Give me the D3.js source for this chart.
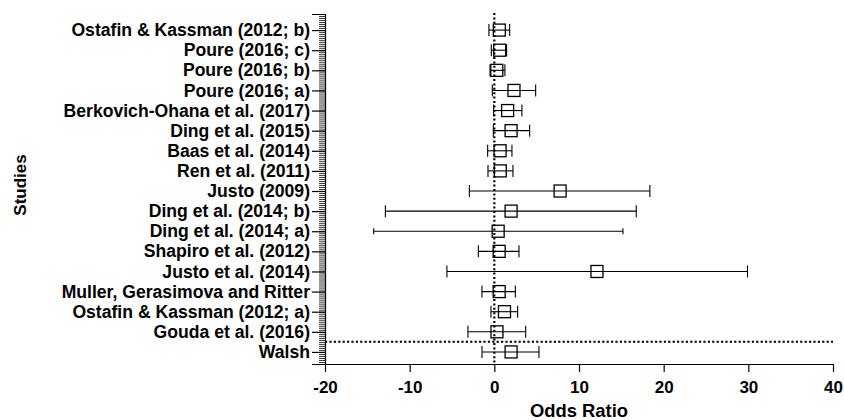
<!DOCTYPE html>
<html>
<head>
<meta charset="utf-8">
<script src="https://cdn.jsdelivr.net/npm/d3@7"></script>
<style>
  body { margin: 0; background: #fff; }
  svg text { font-family: "Liberation Sans", Arial, sans-serif; font-weight: bold; fill: #000; }
</style>
</head>
<body>
<div id="chart"></div>
<script>
const studies = [
  "Ostafin & Kassman (2012; b)", "Poure (2016; c)", "Poure (2016; b)", "Poure (2016; a)",
  "Berkovich-Ohana et al. (2017)", "Ding et al. (2015)", "Baas et al. (2014)", "Ren et al. (2011)",
  "Justo (2009)", "Ding et al. (2014; b)", "Ding et al. (2014; a)", "Shapiro et al. (2012)",
  "Justo et al. (2014)", "Muller, Gerasimova and Ritter", "Ostafin & Kassman (2012; a)",
  "Gouda et al. (2016)", "Walsh"
];
const oddsRatio = [0.59, 0.63, 0.29, 2.32, 1.57, 1.98, 0.68, 0.70, 7.77, 1.98, 0.45, 0.57, 12.12, 0.57, 1.20, 0.31, 1.98];
const ciLow     = [-0.64, -0.36, -0.51, -0.24, -0.08, -0.12, -0.79, -0.75, -2.95, -12.87, -14.25, -1.89, -5.60, -1.46, -0.40, -3.12, -1.46];
const ciHigh    = [1.81, 1.45, 1.25, 4.88, 3.26, 4.17, 2.08, 2.20, 18.37, 16.76, 15.19, 2.91, 29.90, 2.48, 2.75, 3.70, 5.27];
const xTicks = [-20, -10, 0, 10, 20, 30, 40];
const xDomain = [-20, 40];
const rowDomain = [-0.8, 16.6];
const splitRow = 15.5;   // dotted separator above the last study

const width = 844, height = 420;
const margin = { top: 14, right: 11, bottom: 56, left: 325 };
const innerW = width - margin.left - margin.right;
const innerH = height - margin.top - margin.bottom;

const rows = studies.map((s, i) => ({ study: s, row: i, or: oddsRatio[i], lo: ciLow[i], hi: ciHigh[i] }));

const svg = d3.select("#chart").append("svg")
    .attr("width", width)
    .attr("height", height);
const g = svg.append("g")
    .attr("transform", "translate(" + margin.left + "," + margin.top + ")");

const x = d3.scaleLinear().domain(xDomain).range([0, innerW]);
const y = d3.scaleLinear().domain(rowDomain).range([0, innerH]);

// minor ticks on the y axis
const minor = d3.range(rowDomain[0], rowDomain[1] + 0.001, 0.1);
g.append("g")
    .call(d3.axisLeft(y).tickValues(minor).tickSize(6).tickFormat(""))
    .call(a => a.select(".domain").remove())
    .selectAll("line").attr("stroke", "#000").attr("stroke-width", 0.8);

// major y ticks with study labels
const yAxis = g.append("g")
    .call(d3.axisLeft(y).tickValues(d3.range(studies.length)).tickSize(13).tickPadding(2)
      .tickFormat(i => studies[i]));
yAxis.select(".domain").attr("stroke", "#000").attr("stroke-width", 1.2);
yAxis.selectAll("line").attr("stroke", "#000").attr("stroke-width", 1.2);
yAxis.selectAll("text").style("font-size", "17.6px");

// x axis
const xAxis = g.append("g")
    .attr("transform", "translate(0," + innerH + ")")
    .call(d3.axisBottom(x).tickValues(xTicks).tickSize(8).tickPadding(9).tickSizeOuter(0)
      .tickFormat(d => String(d)));
xAxis.select(".domain").attr("stroke", "#000").attr("stroke-width", 1.2);
xAxis.selectAll("line").attr("stroke", "#000").attr("stroke-width", 1.2);
xAxis.selectAll("text").style("font-size", "17px");

// reference lines
g.append("line")
    .attr("x1", x(0)).attr("x2", x(0))
    .attr("y1", -1).attr("y2", innerH)
    .attr("stroke", "#000").attr("stroke-width", 2.2)
    .attr("stroke-dasharray", "2,2.4");
g.append("line")
    .attr("x1", 0).attr("x2", x(xDomain[1]))
    .attr("y1", y(splitRow)).attr("y2", y(splitRow))
    .attr("stroke", "#000").attr("stroke-width", 2)
    .attr("stroke-dasharray", "2.2,2.2");

// whiskers
const bars = g.selectAll(".study")
    .data(rows)
    .enter()
    .append("g")
      .attr("class", "study")
      .attr("transform", d => "translate(0," + y(d.row) + ")");
bars.append("line")
    .attr("x1", d => x(d.lo)).attr("x2", d => x(d.hi))
    .attr("stroke", "#000").attr("stroke-width", 1.1);
// caps (Ding a is drawn with short caps in the original)
const capHalf = d => d.study === "Ding et al. (2014; a)" ? 3 : 6;
bars.append("line")
    .attr("x1", d => x(d.lo)).attr("x2", d => x(d.lo))
    .attr("y1", d => -capHalf(d)).attr("y2", d => capHalf(d))
    .attr("stroke", "#000").attr("stroke-width", 1.1);
bars.append("line")
    .attr("x1", d => x(d.hi)).attr("x2", d => x(d.hi))
    .attr("y1", d => -capHalf(d)).attr("y2", d => capHalf(d))
    .attr("stroke", "#000").attr("stroke-width", 1.1);
// square markers
bars.append("rect")
    .attr("x", d => x(d.or) - 6)
    .attr("y", -6)
    .attr("width", 12)
    .attr("height", 12)
    .attr("fill", "none")
    .attr("stroke", "#000")
    .attr("stroke-width", 1.3);

// axis titles
svg.append("text")
    .attr("x", margin.left + innerW / 2)
    .attr("y", 417)
    .attr("text-anchor", "middle")
    .style("font-size", "18.4px")
    .text("Odds Ratio");
svg.append("text")
    .attr("transform", "translate(26,185) rotate(-90)")
    .attr("text-anchor", "middle")
    .style("font-size", "17px")
    .text("Studies");
</script>
</body>
</html>
